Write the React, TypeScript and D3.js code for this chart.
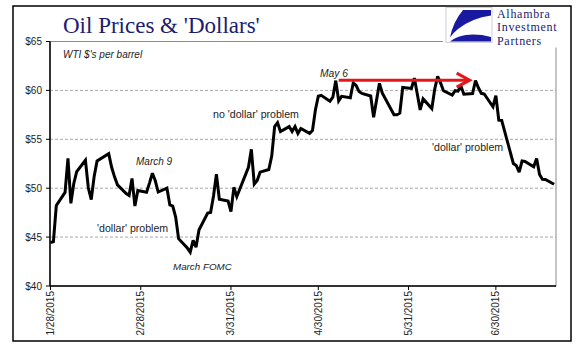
import React from "react";
import * as d3 from "d3";

const dates: string[] = [
  "2015-01-28","2015-01-29","2015-01-30","2015-02-02","2015-02-03","2015-02-04","2015-02-05","2015-02-06",
  "2015-02-09","2015-02-10","2015-02-11","2015-02-12","2015-02-13","2015-02-17","2015-02-18","2015-02-19",
  "2015-02-20","2015-02-23","2015-02-24","2015-02-25","2015-02-26","2015-02-27","2015-03-02","2015-03-03",
  "2015-03-04","2015-03-05","2015-03-06","2015-03-09","2015-03-10","2015-03-11","2015-03-12","2015-03-13",
  "2015-03-16","2015-03-17","2015-03-18","2015-03-19","2015-03-20","2015-03-23","2015-03-24","2015-03-25",
  "2015-03-26","2015-03-27","2015-03-30","2015-03-31","2015-04-01","2015-04-02","2015-04-06","2015-04-07",
  "2015-04-08","2015-04-09","2015-04-10","2015-04-13","2015-04-14","2015-04-15","2015-04-16","2015-04-17",
  "2015-04-20","2015-04-21","2015-04-22","2015-04-23","2015-04-24","2015-04-27","2015-04-28","2015-04-29",
  "2015-04-30","2015-05-01","2015-05-04","2015-05-05","2015-05-06","2015-05-07","2015-05-08","2015-05-11",
  "2015-05-12","2015-05-13","2015-05-14","2015-05-15","2015-05-18","2015-05-19","2015-05-20","2015-05-21",
  "2015-05-22","2015-05-26","2015-05-27","2015-05-28","2015-05-29","2015-06-01","2015-06-02","2015-06-03",
  "2015-06-04","2015-06-05","2015-06-08","2015-06-09","2015-06-10","2015-06-11","2015-06-12","2015-06-15",
  "2015-06-16","2015-06-17","2015-06-18","2015-06-19","2015-06-22","2015-06-23","2015-06-24","2015-06-25",
  "2015-06-26","2015-06-29","2015-06-30","2015-07-01","2015-07-02","2015-07-06","2015-07-07","2015-07-08",
  "2015-07-09","2015-07-10","2015-07-13","2015-07-14","2015-07-15","2015-07-16","2015-07-17","2015-07-20",
];

const prices: number[] = [
  44.45, 44.53, 48.24, 49.57, 53.05, 48.45, 50.48, 51.69,
  52.86, 50.02, 48.84, 51.21, 52.78, 53.53, 52.14, 51.16,
  50.34, 49.45, 49.25, 50.99, 48.17, 49.76, 49.59, 50.52,
  51.53, 50.76, 49.61, 50.0, 48.29, 48.17, 47.05, 44.84,
  43.88, 43.46, 44.66, 43.96, 45.72, 47.45, 47.51, 49.21,
  51.43, 48.87, 48.68, 47.6, 50.09, 49.14, 52.14, 53.98,
  50.42, 50.79, 51.64, 51.91, 53.29, 56.3, 56.7, 55.8,
  56.3, 55.8, 56.3, 55.6, 56.1, 55.6, 55.9, 58.0,
  59.4, 59.5, 58.9, 59.3, 61.0, 58.94, 59.39, 59.25,
  60.75, 60.5, 59.88, 59.69, 59.43, 57.26, 58.98, 60.72,
  59.72, 57.51, 57.51, 57.68, 60.3, 60.2, 61.26, 59.64,
  58.0, 59.13, 58.14, 60.14, 61.43, 60.77, 59.96, 59.52,
  59.97, 59.92, 60.45, 59.61, 59.68, 61.01, 60.27, 59.7,
  59.63, 58.33, 59.47, 56.96, 56.93, 52.53, 52.33, 51.65,
  52.78, 52.74, 52.2, 53.04, 51.41, 50.91, 50.89, 50.4,
];

const yTicks: number[] = [40, 45, 50, 55, 60, 65];
const xTickDates: string[] = ["2015-01-28", "2015-02-28", "2015-03-31", "2015-04-30", "2015-05-31", "2015-06-30"];
const xTickLabels: string[] = ["1/28/2015", "2/28/2015", "3/31/2015", "4/30/2015", "5/31/2015", "6/30/2015"];
const logoLines: string[] = ["Alhambra", "Investment", "Partners"];
const arrowFrom = "2015-05-07";
const arrowTo = "2015-06-21";
const arrowLevel = 61.05;

const parse = d3.timeParse("%Y-%m-%d");

export default function App() {
  const W = 577, H = 361;
  const x = d3.scaleTime()
    .domain([parse("2015-01-28") as Date, parse("2015-07-21") as Date])
    .range([50.5, 557]);
  const y = d3.scaleLinear().domain([40, 65]).range([286, 41.5]);
  const pts = dates.map((d, i) => [parse(d) as Date, prices[i]] as [Date, number]);
  const line = d3.line<[Date, number]>().x((d) => x(d[0])).y((d) => y(d[1]));
  const left = x.range()[0] - 0.5;
  const right = 556;
  const bottom = y(40);
  const top = y(65);
  const ax0 = x(parse(arrowFrom) as Date);
  const ax1 = x(parse(arrowTo) as Date);
  const ay = y(arrowLevel);
  const sans = "'Liberation Sans', Arial, sans-serif";
  const serif = "'Liberation Serif', 'Times New Roman', serif";
  const navy = "#1c1c70";

  return (
    <svg width={W} height={H} style={{ position: "absolute", left: 0, top: 0, background: "#fff" }}>
      <rect x={0} y={0} width={W} height={H} fill="#fff" />
      <rect x={13} y={6} width={558} height={335} fill="none" stroke="#000" strokeWidth={1.5} />
      {/* plot frame */}
      <rect x={left} y={top} width={right - left} height={bottom - top} fill="none" stroke="#8c8c8c" strokeWidth={1} />
      {yTicks.filter((t) => t > 40 && t < 65).map((t) => (
        <line key={t} x1={left} x2={right} y1={y(t)} y2={y(t)} stroke="#a8a8a8" strokeWidth={1} strokeDasharray="3,2" />
      ))}
      {/* axes */}
      <line x1={left} x2={left} y1={top} y2={bottom} stroke="#000" strokeWidth={1.5} />
      <line x1={left} x2={right} y1={bottom} y2={bottom} stroke="#000" strokeWidth={1.5} />
      {yTicks.map((t) => (
        <g key={t}>
          <line x1={left - 4} x2={left} y1={y(t)} y2={y(t)} stroke="#000" strokeWidth={1} />
          <text x={42} y={y(t)} dy="0.35em" textAnchor="end" fontFamily={sans} fontSize={10} fill="#222">
            {"$" + t}
          </text>
        </g>
      ))}
      {xTickDates.map((d, i) => {
        const xx = x(parse(d) as Date);
        return (
          <g key={d}>
            <line x1={xx} x2={xx} y1={bottom} y2={bottom + 4} stroke="#000" strokeWidth={1} />
            <text transform={`translate(${xx},${bottom + 5}) rotate(-90)`} dy="0.35em" textAnchor="end"
              fontFamily={sans} fontSize={10} fill="#222">
              {xTickLabels[i]}
            </text>
          </g>
        );
      })}
      {/* data line */}
      <path d={line(pts) || ""} fill="none" stroke="#000" strokeWidth={3} strokeLinejoin="miter" strokeMiterlimit={3} />
      {/* red arrow */}
      <line x1={ax0} x2={ax1 - 1} y1={ay} y2={ay} stroke="#e3161b" strokeWidth={3} />
      <polyline points={`${ax1 - 13},${ay - 7} ${ax1},${ay} ${ax1 - 13},${ay + 7}`} fill="none" stroke="#e3161b" strokeWidth={3} />
      {/* annotations */}
      <text x={63} y={58} fontFamily={sans} fontStyle="italic" fontSize={10} fill="#222">WTI $'s per barrel</text>
      <text x={213} y={118} fontFamily={sans} fontSize={10.6} fill="#222">no 'dollar' problem</text>
      <text x={136} y={165} fontFamily={sans} fontStyle="italic" fontSize={10} fill="#222">March 9</text>
      <text x={97} y={232} fontFamily={sans} fontSize={10.6} fill="#222">'dollar' problem</text>
      <text x={173} y={270} fontFamily={sans} fontStyle="italic" fontSize={9.8} fill="#222">March FOMC</text>
      <text x={320} y={77} fontFamily={sans} fontStyle="italic" fontSize={10.3} fill="#222">May 6</text>
      <text x={432} y={151} fontFamily={sans} fontSize={10.6} fill="#222">'dollar' problem</text>
      {/* title */}
      <text x={63} y={33} fontFamily={serif} fontSize={23} fill={navy}>Oil Prices &amp; 'Dollars'</text>
      {/* logo */}
      <rect x={443} y={7.5} width={126} height={40} fill="#fff" />
      <rect x={446} y={7.5} width={46} height={35} fill="#fff" stroke="#d0d0d8" strokeWidth={1} />
      <path d="M463,10 L491,10 L491,15.5 Q472,18 458,29 Q453,33 450,37.5 Q453,22 463,10 Z" fill="#1a1aa0" />
      <path d="M450,41.5 L491,41.5 L491,37 Q478,33.5 466,35 Q458,36 453,39.5 Z" fill="#1a1aa0" />
      {logoLines.map((s, i) => (
        <text key={s} x={497} y={17.5 + i * 13.5} fontFamily={serif} fontSize={12} letterSpacing={0.7} fill={navy}>
          {s}
        </text>
      ))}
    </svg>
  );
}
